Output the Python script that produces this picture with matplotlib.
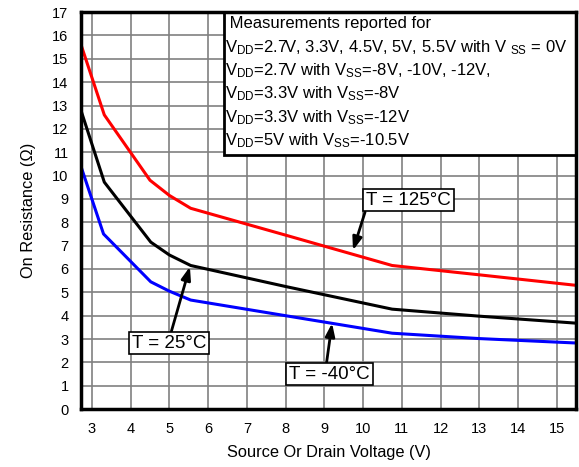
import matplotlib.pyplot as plt
from matplotlib.patches import Rectangle

plt.rcParams['font.family'] = ['Liberation Sans', 'DejaVu Sans']
plt.rcParams['mathtext.fontset'] = 'custom'
plt.rcParams['mathtext.rm'] = 'Liberation Sans'

# Datos
v_red = [2.72, 3.32, 4.5, 5.0, 5.55, 8.0, 10.75, 13.0, 15.5]
r_red = [15.6, 12.6, 9.8, 9.15, 8.6, 7.45, 6.15, 5.75, 5.3]

v_black = [2.72, 3.32, 4.52, 5.0, 5.55, 8.0, 10.75, 13.0, 15.5]
r_black = [12.78, 9.72, 7.15, 6.6, 6.15, 5.25, 4.28, 3.98, 3.68]

v_blue = [2.72, 3.3, 4.52, 5.0, 5.55, 8.0, 10.75, 13.0, 15.5]
r_blue = [10.38, 7.5, 5.45, 5.05, 4.67, 4.0, 3.25, 3.02, 2.83]

x_ticks = list(range(3, 16))
y_ticks = list(range(0, 18))

legend_lines = [
    r' Measurements reported for',
    r'$\mathregular{V_{DD}}$=2.7V, 3.3V, 4.5V, 5V, 5.5V with V $\mathregular{_{SS}}$ = 0V',
    r'$\mathregular{V_{DD}}$=2.7V with V$\mathregular{_{SS}}$=-8V, -10V, -12V,',
    r'$\mathregular{V_{DD}}$=3.3V with V$\mathregular{_{SS}}$=-8V',
    r'$\mathregular{V_{DD}}$=3.3V with V$\mathregular{_{SS}}$=-12V',
    r'$\mathregular{V_{DD}}$=5V with V$\mathregular{_{SS}}$=-10.5V',
]

fig = plt.figure(figsize=(5.79, 4.67), dpi=100)
ax = fig.add_axes([0.140, 0.124, 0.855, 0.850])

ax.plot(v_red, r_red, color='#ff0000', lw=2.2, zorder=3)
ax.plot(v_black, r_black, color='black', lw=2.2, zorder=3)
ax.plot(v_blue, r_blue, color='#0000ff', lw=2.2, zorder=3)

ax.set_xlim(2.72, 15.5)
ax.set_ylim(0, 17)
ax.set_xticks(x_ticks)
ax.set_yticks(y_ticks)
ax.tick_params(length=0, labelsize=10.5, pad=9)
ax.grid(True, color='#808080', lw=1.2)
ax.set_axisbelow(True)
for s in ax.spines.values():
    s.set_linewidth(2.5)
    s.set_zorder(6)

ax.set_xlabel('Source Or Drain Voltage (V)', fontsize=11.8, labelpad=7)
ax.set_ylabel('On Resistance (Ω)', fontsize=11.8, labelpad=12)

# Caja de condiciones de medida
ax.add_patch(Rectangle((6.41, 10.88), 15.5 - 6.41, 17 - 10.88, facecolor='white',
                       edgecolor='black', lw=2, zorder=5))
for i, line in enumerate(legend_lines):
    ax.text(6.43, 16.5 - i * 1.0, line, fontsize=12, va='center', ha='left', zorder=6)

box = dict(boxstyle='square,pad=0.15', facecolor='white', edgecolor='black', lw=1.2)


def flecha(rx, ry):
    return dict(arrowstyle='-|>,head_length=0.55,head_width=0.2', color='black', lw=2,
                mutation_scale=14, shrinkA=0, shrinkB=0, relpos=(rx, ry))


ax.annotate('T = 125°C', xy=(9.74, 6.8), xytext=(10.08, 8.95), fontsize=13.5,
            ha='left', va='center', bbox=box, arrowprops=flecha(0.0, 0.0), zorder=7)
ax.annotate('T = 25°C', xy=(5.53, 6.1), xytext=(4.03, 2.83), fontsize=13.5,
            ha='left', va='center', bbox=box, arrowprops=flecha(0.52, 1.0), zorder=7)
ax.annotate('T = -40°C', xy=(9.2, 3.68), xytext=(8.09, 1.5), fontsize=13.5,
            ha='left', va='center', bbox=box, arrowprops=flecha(0.46, 1.0), zorder=7)

plt.savefig('out.png', dpi=100)
